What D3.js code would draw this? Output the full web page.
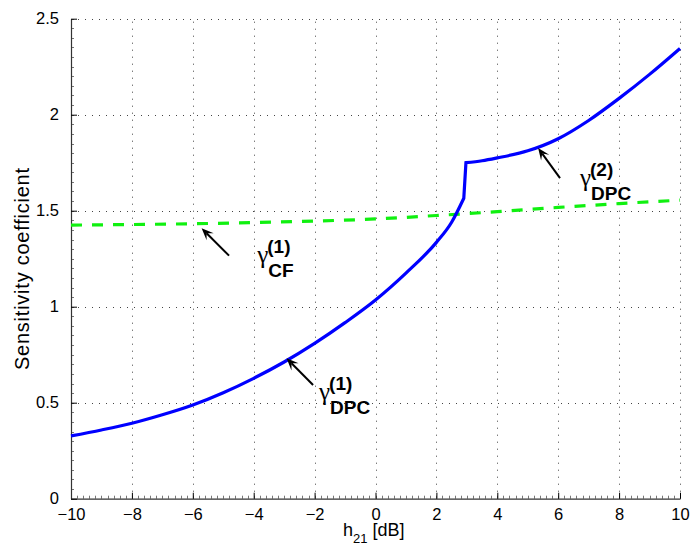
<!DOCTYPE html>
<html>
<head>
<meta charset="utf-8">
<script src="https://cdnjs.cloudflare.com/ajax/libs/d3/7.8.5/d3.min.js"></script>
<style>
body { margin: 0; background: #fff; }
text { font-family: "Liberation Sans", Arial, sans-serif; }
</style>
</head>
<body>
<script>
// sensitivity coefficient vs h21 [dB]

// gamma_DPC^(1), lower branch
var dpc1X = [-10, -9, -8, -7, -6, -5, -4, -3, -2, -1, 0, 1, 2, 2.5, 2.9];
var dpc1Y = [0.327, 0.358, 0.393, 0.437, 0.488, 0.552, 0.627, 0.712, 0.809, 0.917, 1.035, 1.175, 1.335, 1.44, 1.565];

// gamma_DPC^(2), upper branch
var dpc2X = [2.97, 3.5, 4, 5, 6, 7, 8, 9, 10];
var dpc2Y = [1.75, 1.76, 1.775, 1.812, 1.875, 1.97, 2.085, 2.21, 2.345];

// gamma_CF^(1)
var cfX = [-10, -8, -6, -4, -2, 0, 2, 4, 6, 8, 10];
var cfY = [1.425, 1.428, 1.432, 1.438, 1.446, 1.457, 1.475, 1.495, 1.517, 1.537, 1.555];

var xTicks = [-10, -8, -6, -4, -2, 0, 2, 4, 6, 8, 10];
var yTicks = [0, 0.5, 1, 1.5, 2, 2.5];

// annotations: arrow tail -> head, label anchor (gamma left/baseline)
var annNames = ["CF", "DPC", "DPC"];
var annSup = ["(1)", "(1)", "(2)"];
var annHead = [[-5.71, 1.408], [-2.92, 0.731], [5.34, 1.827]];
var annTail = [[-4.81, 1.266], [-2.05, 0.592], [6.06, 1.670]];
var annLabel = [[-3.85, 1.228], [-1.82, 0.514], [6.75, 1.628]];

var W = 690, H = 545;
var pLeft = 71, pRight = 680, pTop = 18.7, pBottom = 498.7;

var svg = d3.select("body").append("svg")
  .attr("width", W)
  .attr("height", H);

var x = d3.scaleLinear().domain([-10, 10]).range([pLeft, pRight]);
var y = d3.scaleLinear().domain([0, 2.5]).range([pBottom, pTop]);

// grid
var grid = svg.append("g").attr("class", "grid")
  .attr("stroke", "#444").attr("stroke-width", 1)
  .attr("stroke-dasharray", "1,6");
grid.selectAll(".gx").data(xTicks.slice(1)).enter().append("line")
  .attr("x1", d => Math.round(x(d)) + 0.5).attr("x2", d => Math.round(x(d)) + 0.5)
  .attr("y1", pBottom).attr("y2", pTop);
grid.selectAll(".gy").data(yTicks.slice(1)).enter().append("line")
  .attr("y1", d => Math.round(y(d)) + 0.5).attr("y2", d => Math.round(y(d)) + 0.5)
  .attr("x1", pLeft).attr("x2", pRight);

// minor ticks
var minorX = d3.range(-10, 10.001, 0.2);
var minorY = d3.range(0, 2.5001, 0.05);
svg.append("g").selectAll("line").data(minorX).enter().append("line")
  .attr("x1", d => Math.round(x(d)) + 0.5).attr("x2", d => Math.round(x(d)) + 0.5)
  .attr("y1", pBottom).attr("y2", pBottom - 3)
  .attr("stroke", "#777").attr("stroke-width", 1);
svg.append("g").selectAll("line").data(minorY).enter().append("line")
  .attr("y1", d => Math.round(y(d)) + 0.5).attr("y2", d => Math.round(y(d)) + 0.5)
  .attr("x1", pLeft).attr("x2", pLeft + 3)
  .attr("stroke", "#777").attr("stroke-width", 1);

// axes
var xAxis = d3.axisBottom(x).tickValues(xTicks).tickSizeInner(-6).tickSizeOuter(0)
  .tickPadding(10).tickFormat(d => d < 0 ? "\u2212" + Math.abs(d) : d);
var yAxis = d3.axisLeft(y).tickValues(yTicks).tickSizeInner(-6).tickSizeOuter(0)
  .tickPadding(12).tickFormat(d => d);

var gx = svg.append("g").attr("transform", "translate(0," + pBottom + ")").call(xAxis);
var gy = svg.append("g").attr("transform", "translate(" + pLeft + ",0)").call(yAxis);
[gx, gy].forEach(function (g) {
  g.select(".domain").attr("stroke", "#333").attr("stroke-width", 1.2);
  g.selectAll(".tick line").attr("stroke", "#000");
  g.selectAll(".tick text").attr("fill", "#000")
    .style("font-family", "'Liberation Sans', Arial, sans-serif")
    .style("font-size", "16.5px");
});

// curves
var line = d3.line()
  .x(d => x(d[0]))
  .y(d => y(d[1]))
  .curve(d3.curveMonotoneX);

var dpcLow = dpc1X.map((v, i) => [v, dpc1Y[i]]);
var dpcHigh = dpc2X.map((v, i) => [v, dpc2Y[i]]);
var cf = cfX.map((v, i) => [v, cfY[i]]);

svg.append("path")
  .attr("d", line(cf))
  .attr("fill", "none")
  .attr("stroke", "#10f010")
  .attr("stroke-width", 3.2)
  .attr("stroke-dasharray", "11,10");

svg.append("path")
  .attr("d", line(dpcLow) + "L" + line(dpcHigh).slice(1))
  .attr("fill", "none")
  .attr("stroke", "#0000ff")
  .attr("stroke-width", 3.2);

// arrows
function arrowHead(hx, hy, tx, ty) {
  var a = Math.atan2(ty - hy, tx - hx);
  var len = 12, w = 5, notch = 7;
  var ca = Math.cos(a), sa = Math.sin(a);
  var p1 = [hx + len * ca - w * sa, hy + len * sa + w * ca];
  var p2 = [hx + notch * ca, hy + notch * sa];
  var p3 = [hx + len * ca + w * sa, hy + len * sa - w * ca];
  return "M" + hx + "," + hy + "L" + p1 + "L" + p2 + "L" + p3 + "Z";
}

var ann = svg.append("g");
annHead.forEach(function (h, i) {
  var hx = x(h[0]), hy = y(h[1]);
  var tx = x(annTail[i][0]), ty = y(annTail[i][1]);
  var a = Math.atan2(ty - hy, tx - hx);
  ann.append("line")
    .attr("x1", tx).attr("y1", ty)
    .attr("x2", hx + 7 * Math.cos(a))
    .attr("y2", hy + 7 * Math.sin(a))
    .attr("stroke", "#000").attr("stroke-width", 2);
  ann.append("path").attr("d", arrowHead(hx, hy, tx, ty)).attr("fill", "#000");

  var lx = x(annLabel[i][0]), ly = y(annLabel[i][1]);
  ann.append("text")
    .attr("x", lx - 1).attr("y", ly)
    .style("font-family", "'Liberation Serif', 'Times New Roman', serif")
    .style("font-size", "25px")
    .text("\u03b3");
  ann.append("text")
    .attr("x", lx + 9).attr("y", ly - 10)
    .style("font-size", "19px").style("font-weight", "bold")
    .text(annSup[i]);
  ann.append("text")
    .attr("x", lx + 10).attr("y", ly + 14)
    .style("font-size", "19px").style("font-weight", "bold")
    .text(annNames[i]);
});

// axis labels
var xl = svg.append("text")
  .attr("x", 343).attr("y", 536)
  .style("font-size", "18px");
xl.append("tspan").text("h");
xl.append("tspan").attr("dy", 7).style("font-size", "13px").text("21");
xl.append("tspan").attr("dy", -7).text(" [dB]");

svg.append("text")
  .attr("transform", "translate(29," + 269 + ") rotate(-90)")
  .attr("text-anchor", "middle")
  .attr("textLength", 202)
  .attr("lengthAdjust", "spacing")
  .style("font-size", "20px")
  .text("Sensitivity coefficient");
</script>
</body>
</html>
